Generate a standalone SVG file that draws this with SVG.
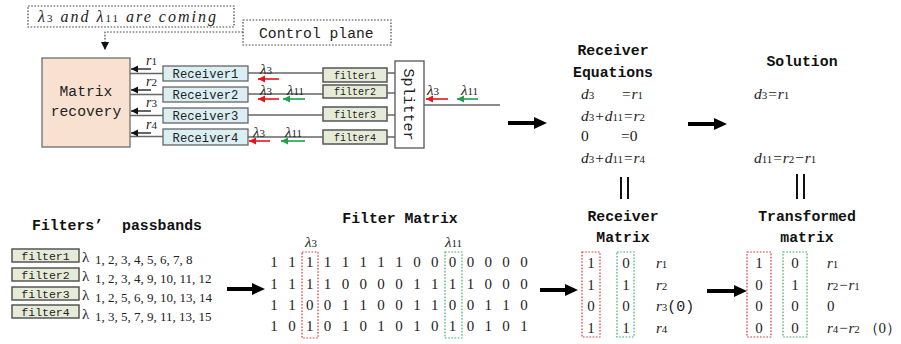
<svg xmlns="http://www.w3.org/2000/svg" width="901" height="344" viewBox="0 0 901 344">
<style>
.mono{font-family:"Liberation Mono","DejaVu Sans Mono",monospace;fill:#222}
.hd{font-family:"Liberation Mono","DejaVu Sans Mono",monospace;font-weight:bold;font-size:14.8px;fill:#111;text-anchor:middle}
.hds{font-family:"Liberation Mono","DejaVu Sans Mono",monospace;font-weight:bold;font-size:14.8px;fill:#111}
.ser{font-family:"Liberation Serif","DejaVu Serif",serif;fill:#222}
.it{font-family:"Liberation Serif","DejaVu Serif",serif;font-style:italic;fill:#222}
.sub{font-style:normal;font-size:11px}
.dot{fill:none;stroke:#444;stroke-width:1.2;stroke-dasharray:1.6 1.6}
.gl{stroke:#666;stroke-width:1.4;fill:none}
.blk{stroke:#111;stroke-width:1.3;fill:none;marker-end:url(#ab)}
.red{stroke:#e8141c;stroke-width:1.6;fill:none;marker-end:url(#ar)}
.grn{stroke:#1ba34b;stroke-width:1.6;fill:none;marker-end:url(#ag)}
.big{stroke:#000;stroke-width:4;fill:none;marker-end:url(#abig)}
.rec{fill:#daeef3;stroke:#666;stroke-width:1.3}
.flt{fill:#e6ebd7;stroke:#555;stroke-width:1.5}
.rdb{fill:none;stroke:#e0303a;stroke-width:1.2;stroke-dasharray:1.6 1.6}
.gdb{fill:none;stroke:#3aaa6a;stroke-width:1.2;stroke-dasharray:1.6 1.6}
.mx{font-family:"Liberation Serif","DejaVu Serif",serif;font-size:15px;fill:#222;text-anchor:middle}
.bar{stroke:#111;stroke-width:2}
</style>
<defs>
<marker id="ab" markerWidth="8" markerHeight="8" refX="7" refY="4" orient="auto" markerUnits="userSpaceOnUse"><path d="M0,0.5 L7,4 L0,7.5 z" fill="#111"/></marker>
<marker id="ar" markerWidth="8" markerHeight="8" refX="7" refY="4" orient="auto" markerUnits="userSpaceOnUse"><path d="M0,0.5 L7,4 L0,7.5 z" fill="#e8141c"/></marker>
<marker id="ag" markerWidth="8" markerHeight="8" refX="7" refY="4" orient="auto" markerUnits="userSpaceOnUse"><path d="M0,0.5 L7,4 L0,7.5 z" fill="#1ba34b"/></marker>
<marker id="abig" markerWidth="14" markerHeight="14" refX="0" refY="7" orient="auto" markerUnits="userSpaceOnUse"><path d="M0,1 L13,7 L0,13 z" fill="#000"/></marker>
<marker id="adot" markerWidth="10" markerHeight="10" refX="8" refY="5" orient="auto" markerUnits="userSpaceOnUse"><path d="M0,1 L8,5 L0,9 z" fill="#111"/></marker>
</defs>

<g id="note-coming">
<rect class="dot" x="28" y="6" width="206" height="21"/>
<text class="it" x="38" y="22" font-size="16" textLength="178" lengthAdjust="spacing">λ<tspan class="sub" font-size="11">3</tspan> and λ<tspan class="sub" font-size="11">11</tspan> are coming</text>
</g>
<g id="control-plane">
<rect class="dot" x="243" y="20" width="148" height="25"/>
<text class="mono" x="259" y="38" font-size="14.7">Control plane</text>
</g>
<g id="matrix-recovery">
<rect x="42" y="58" width="88" height="89" fill="#f9e1d2" stroke="#777" stroke-width="1.4"/>
<text class="mono" x="86" y="96" font-size="14.7" text-anchor="middle">Matrix</text>
<text class="mono" x="86" y="116" font-size="14.7" text-anchor="middle">recovery</text>
</g>
<g id="receiver1"><rect class="rec" x="163" y="66" width="85" height="15"/><text class="mono" x="205.5" y="78" font-size="12.2" text-anchor="middle">Receiver1</text></g>
<g id="receiver2"><rect class="rec" x="163" y="87" width="85" height="15"/><text class="mono" x="205.5" y="99" font-size="12.2" text-anchor="middle">Receiver2</text></g>
<g id="receiver3"><rect class="rec" x="163" y="108" width="85" height="15"/><text class="mono" x="205.5" y="120" font-size="12.2" text-anchor="middle">Receiver3</text></g>
<g id="receiver4"><rect class="rec" x="163" y="129" width="85" height="16"/><text class="mono" x="205.5" y="141.5" font-size="12.2" text-anchor="middle">Receiver4</text></g>
<g id="filter1"><rect class="flt" x="323" y="68" width="64" height="14"/><text class="mono" x="355" y="78.5" font-size="10" text-anchor="middle">filter1</text></g>
<g id="filter2"><rect class="flt" x="323" y="85" width="64" height="13"/><text class="mono" x="355" y="95" font-size="10" text-anchor="middle">filter2</text></g>
<g id="filter3"><rect class="flt" x="323" y="107" width="64" height="14"/><text class="mono" x="355" y="117.5" font-size="10" text-anchor="middle">filter3</text></g>
<g id="filter4"><rect class="flt" x="323" y="130" width="64" height="14"/><text class="mono" x="355" y="140.5" font-size="10" text-anchor="middle">filter4</text></g>
<g id="splitter">
<rect x="395" y="61" width="29" height="87" fill="#fff" stroke="#555" stroke-width="1.3"/>
<text class="mono" font-size="15" text-anchor="middle" transform="translate(404,104.5) rotate(90)">Splitter</text>
</g>

<g id="connectors">
<path class="dot" d="M243,32 H105 V50" marker-end="url(#adot)"/>
<path class="gl" d="M130,73.5 H163 M130,94.5 H163 M130,115.5 H163 M130,136.5 H163"/>
<path class="gl" d="M248,73 H323 M248,94 H323 M248,115 H323 M248,137 H323"/>
<path class="gl" d="M387,73 H395 M387,93 H395 M387,115 H395 M387,137 H395"/>
<path class="gl" d="M424,105 H500"/>
<line class="blk" x1="151" y1="69" x2="131" y2="69"/>
<line class="blk" x1="151" y1="90" x2="131" y2="90"/>
<line class="blk" x1="151" y1="111" x2="131" y2="111"/>
<line class="blk" x1="151" y1="133" x2="131" y2="133"/>
<line class="red" x1="279" y1="79" x2="258" y2="79"/>
<line class="red" x1="279" y1="99" x2="258" y2="99"/>
<line class="grn" x1="305" y1="99" x2="283" y2="99"/>
<line class="red" x1="270" y1="141" x2="249" y2="141"/>
<line class="grn" x1="305" y1="141" x2="281" y2="141"/>
<line class="red" x1="448" y1="99" x2="426" y2="99"/>
<line class="grn" x1="478" y1="99" x2="457" y2="99"/>
<line class="big" x1="508" y1="123" x2="534" y2="123"/>
<line class="big" x1="688" y1="124" x2="714" y2="124"/>
<line class="big" x1="227" y1="289" x2="252" y2="289"/>
<line class="big" x1="540" y1="290" x2="565" y2="290"/>
<line class="big" x1="707" y1="291" x2="734" y2="291"/>
</g>

<g id="wave-labels">
<text class="it" x="146" y="65" font-size="14">r<tspan class="sub">1</tspan></text>
<text class="it" x="146" y="86" font-size="14">r<tspan class="sub">2</tspan></text>
<text class="it" x="146" y="107" font-size="14">r<tspan class="sub">3</tspan></text>
<text class="it" x="146" y="129" font-size="14">r<tspan class="sub">4</tspan></text>
<text class="it" x="260" y="74" font-size="15">λ<tspan class="sub">3</tspan></text>
<text class="it" x="260" y="95" font-size="15">λ<tspan class="sub">3</tspan></text>
<text class="it" x="287" y="95" font-size="15">λ<tspan class="sub">11</tspan></text>
<text class="it" x="253" y="137" font-size="15">λ<tspan class="sub">3</tspan></text>
<text class="it" x="285" y="137" font-size="15">λ<tspan class="sub">11</tspan></text>
<text class="it" x="427" y="95" font-size="15">λ<tspan class="sub">3</tspan></text>
<text class="it" x="461" y="95" font-size="15">λ<tspan class="sub">11</tspan></text>
</g>

<g id="receiver-equations">
<text class="hd" x="613" y="55">Receiver</text>
<text class="hd" x="613" y="77">Equations</text>
<text class="it" x="581" y="99" font-size="15.5">d<tspan class="sub">3</tspan></text>
<text class="it" x="621" y="99" font-size="15.5">=r<tspan class="sub">1</tspan></text>
<text class="it" x="581" y="121" font-size="15.5">d<tspan class="sub">3</tspan>+d<tspan class="sub">11</tspan>=r<tspan class="sub">2</tspan></text>
<text class="ser" x="581" y="141" font-size="15.5">0</text>
<text class="ser" x="621" y="141" font-size="15.5">=0</text>
<text class="it" x="581" y="163" font-size="15.5">d<tspan class="sub">3</tspan>+d<tspan class="sub">11</tspan>=r<tspan class="sub">4</tspan></text>
<line class="bar" x1="621" y1="177" x2="621" y2="199"/>
<line class="bar" x1="628" y1="177" x2="628" y2="199"/>
</g>

<g id="solution">
<text class="hd" x="802" y="66">Solution</text>
<text class="it" x="754" y="99" font-size="15.5">d<tspan class="sub">3</tspan>=r<tspan class="sub">1</tspan></text>
<text class="it" x="754" y="163" font-size="15.5">d<tspan class="sub">11</tspan>=r<tspan class="sub">2</tspan>−r<tspan class="sub">1</tspan></text>
<line class="bar" x1="797" y1="174" x2="797" y2="199"/>
<line class="bar" x1="804" y1="174" x2="804" y2="199"/>
</g>

<g id="filters-passbands">
<text class="hds" x="32" y="230">Filters’<tspan x="122">passbands</tspan></text>
<rect class="flt" x="12" y="249" width="67" height="13"/><text class="mono" x="45.5" y="259.5" font-size="11.5" text-anchor="middle">filter1</text>
<rect class="flt" x="12" y="268" width="67" height="13"/><text class="mono" x="45.5" y="278.5" font-size="11.5" text-anchor="middle">filter2</text>
<rect class="flt" x="12" y="287" width="67" height="13"/><text class="mono" x="45.5" y="297.5" font-size="11.5" text-anchor="middle">filter3</text>
<rect class="flt" x="12" y="305" width="67" height="13"/><text class="mono" x="45.5" y="315.5" font-size="11.5" text-anchor="middle">filter4</text>
<text class="ser" x="82" y="262" font-size="15">λ<tspan x="95" y="264" font-size="13">1, 2, 3, 4, 5, 6, 7, 8</tspan></text>
<text class="ser" x="82" y="281" font-size="15">λ<tspan x="95" y="283" font-size="13">1, 2, 3, 4, 9, 10, 11, 12</tspan></text>
<text class="ser" x="82" y="300" font-size="15">λ<tspan x="95" y="302" font-size="13">1, 2, 5, 6, 9, 10, 13, 14</tspan></text>
<text class="ser" x="82" y="319" font-size="15">λ<tspan x="95" y="321" font-size="13">1, 3, 5, 7, 9, 11, 13, 15</tspan></text>
</g>

<g id="filter-matrix">
<text class="hd" x="400" y="223">Filter Matrix</text>
<text class="it" x="305" y="247" font-size="15">λ<tspan class="sub">3</tspan></text>
<text class="it" x="445" y="247" font-size="15">λ<tspan class="sub">11</tspan></text>
<rect class="rdb" x="302" y="252" width="16" height="86"/>
<rect class="gdb" x="445" y="252" width="17" height="86"/>
<text class="mx" y="267" x="274 282.9 291.9 300.8 309.7 318.6 327.6 336.5 345.4 354.4 363.3 372.2 381.1 390.1 399 407.9 416.9 425.8 434.7 443.6 452.6 461.5 470.4 479.4 488.3 497.2 506.1 515.1 524">1 1 1 1 1 1 1 1 0 0 0 0 0 0 0</text>
<text class="mx" y="289" x="274 282.9 291.9 300.8 309.7 318.6 327.6 336.5 345.4 354.4 363.3 372.2 381.1 390.1 399 407.9 416.9 425.8 434.7 443.6 452.6 461.5 470.4 479.4 488.3 497.2 506.1 515.1 524">1 1 1 1 0 0 0 0 1 1 1 1 0 0 0</text>
<text class="mx" y="310" x="274 282.9 291.9 300.8 309.7 318.6 327.6 336.5 345.4 354.4 363.3 372.2 381.1 390.1 399 407.9 416.9 425.8 434.7 443.6 452.6 461.5 470.4 479.4 488.3 497.2 506.1 515.1 524">1 1 0 0 1 1 0 0 1 1 0 0 1 1 0</text>
<text class="mx" y="331" x="274 282.9 291.9 300.8 309.7 318.6 327.6 336.5 345.4 354.4 363.3 372.2 381.1 390.1 399 407.9 416.9 425.8 434.7 443.6 452.6 461.5 470.4 479.4 488.3 497.2 506.1 515.1 524">1 0 1 0 1 0 1 0 1 0 1 0 1 0 1</text>
</g>

<g id="receiver-matrix">
<text class="hd" x="623" y="221">Receiver</text>
<text class="hd" x="623" y="242">Matrix</text>
<rect class="rdb" x="582" y="252" width="18" height="85"/>
<rect class="gdb" x="617" y="252" width="17" height="85"/>
<text class="mx" x="591" y="268">1</text><text class="mx" x="591" y="290">1</text><text class="mx" x="591" y="311">0</text><text class="mx" x="591" y="333">1</text>
<text class="mx" x="626" y="268">0</text><text class="mx" x="626" y="290">1</text><text class="mx" x="626" y="311">0</text><text class="mx" x="626" y="333">1</text>
<text class="it" x="656" y="268" font-size="15">r<tspan class="sub">1</tspan></text>
<text class="it" x="656" y="290" font-size="15">r<tspan class="sub">2</tspan></text>
<text class="it" x="656" y="311" font-size="15">r<tspan class="sub">3</tspan><tspan class="mono" font-style="normal" font-size="15">(0)</tspan></text>
<text class="it" x="656" y="333" font-size="15">r<tspan class="sub">4</tspan></text>
</g>

<g id="transformed-matrix">
<text class="hd" x="807" y="221">Transformed</text>
<text class="hd" x="807" y="242">matrix</text>
<rect class="rdb" x="747" y="252" width="24" height="85"/>
<rect class="gdb" x="783" y="252" width="24" height="85"/>
<text class="mx" x="759" y="268">1</text><text class="mx" x="759" y="290">0</text><text class="mx" x="759" y="311">0</text><text class="mx" x="759" y="333">0</text>
<text class="mx" x="795" y="268">0</text><text class="mx" x="795" y="290">1</text><text class="mx" x="795" y="311">0</text><text class="mx" x="795" y="333">0</text>
<text class="it" x="827" y="268" font-size="15">r<tspan class="sub">1</tspan></text>
<text class="it" x="827" y="290" font-size="15">r<tspan class="sub">2</tspan>−r<tspan class="sub">1</tspan></text>
<text class="ser" x="827" y="311" font-size="15">0</text>
<text class="it" x="827" y="333" font-size="15">r<tspan class="sub">4</tspan>−r<tspan class="sub">2</tspan><tspan class="ser" font-style="normal" font-size="15"> （0）</tspan></text>
</g>
</svg>
